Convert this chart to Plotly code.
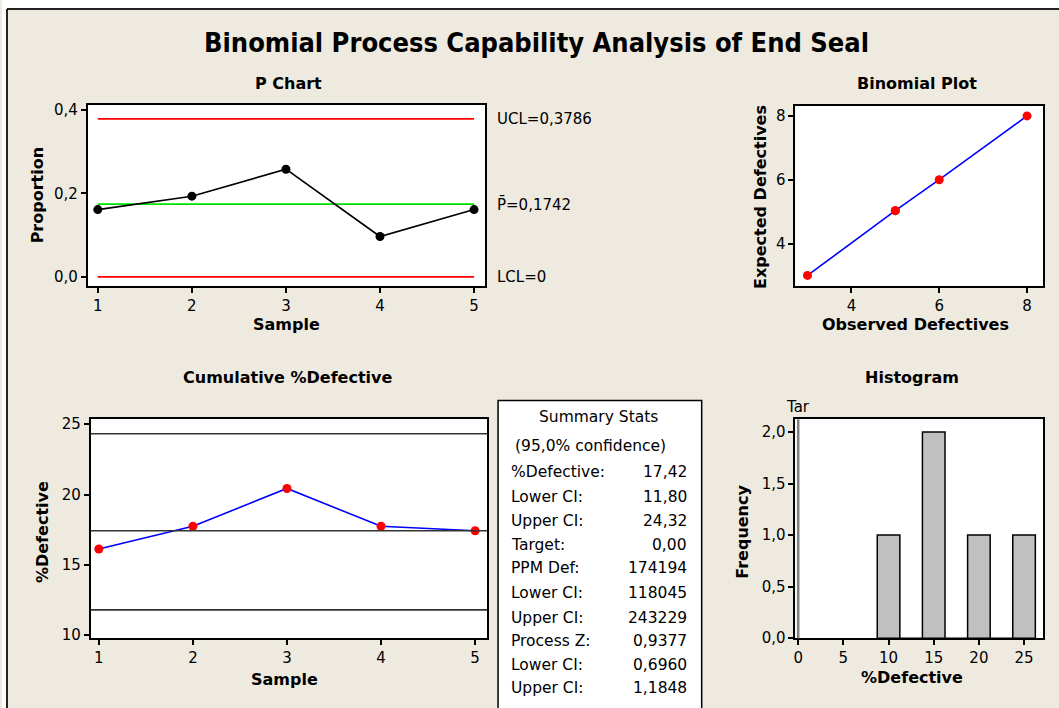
import plotly.graph_objects as go

W, H = 1059, 708

# ---------------- data ----------------
samples = [1, 2, 3, 4, 5]
proportion = [0.1613, 0.1935, 0.2581, 0.0968, 0.1613]
ucl, pbar, lcl = 0.3786, 0.1742, 0.0

cum_pct = [16.13, 17.74, 20.43, 17.74, 17.42]
ci_lines = [24.32, 17.42, 11.80]

observed = [3, 5, 5, 6, 8]
expected = [3, 5.03, 5.03, 6, 8]

hist_bins = [10, 12.5, 15, 17.5, 20, 22.5, 25]
hist_freq = [1, 0, 2, 0, 1, 0, 1]
target = 0.0

stat_labels = ["%Defective:", "Lower CI:", "Upper CI:", "Target:", "PPM Def:",
               "Lower CI:", "Upper CI:", "Process Z:", "Lower CI:", "Upper CI:"]
stat_values = ["17,42", "11,80", "24,32", "0,00", "174194",
               "118045", "243229", "0,9377", "0,6960", "1,1848"]

# ---------------- helpers ----------------
def px(x):
    return x / W

def py(y):
    return 1 - y / H

FONT = "DejaVu Sans"
BG = "#EEEAE0"

fig = go.Figure()

# P chart
fig.add_trace(go.Scatter(x=[samples[0], samples[-1]], y=[ucl, ucl], mode="lines",
                         line=dict(color="#FF0000", width=1.8), xaxis="x", yaxis="y"))
fig.add_trace(go.Scatter(x=[samples[0], samples[-1]], y=[lcl, lcl], mode="lines",
                         line=dict(color="#FF0000", width=1.8), xaxis="x", yaxis="y"))
fig.add_trace(go.Scatter(x=[samples[0], samples[-1]], y=[pbar, pbar], mode="lines",
                         line=dict(color="#00E000", width=1.8), xaxis="x", yaxis="y"))
fig.add_trace(go.Scatter(x=samples, y=proportion, mode="lines+markers",
                         line=dict(color="black", width=1.6),
                         marker=dict(color="black", size=9), xaxis="x", yaxis="y"))

# Binomial plot
fig.add_trace(go.Scatter(x=observed, y=expected, mode="lines+markers",
                         line=dict(color="#0000FF", width=1.6),
                         marker=dict(color="#FF0000", size=9), xaxis="x2", yaxis="y2"))

# Cumulative % defective
fig.add_trace(go.Scatter(x=samples, y=cum_pct, mode="lines+markers",
                         line=dict(color="#0000FF", width=1.6),
                         marker=dict(color="#FF0000", size=9), xaxis="x3", yaxis="y3"))

# Histogram
fig.add_trace(go.Bar(x=hist_bins, y=hist_freq, width=2.5,
                     marker=dict(color="#C0C0C0", line=dict(color="black", width=1.5)),
                     xaxis="x4", yaxis="y4"))

axis_common = dict(showline=True, mirror=True, linecolor="black", linewidth=2,
                   ticks="outside", ticklen=5, tickwidth=1.5, tickcolor="black",
                   showgrid=False, zeroline=False,
                   tickfont=dict(family=FONT, size=15, color="black"))

y_top1, y_bot1 = py(103), py(287)
y_top2, y_bot2 = py(423), py(646)

fig.update_layout(
    width=W, height=H, margin=dict(l=0, r=0, t=0, b=0),
    paper_bgcolor=BG, plot_bgcolor="white", showlegend=False,
    separators=",.",
    xaxis=dict(domain=[px(86), px(484)], range=[0.894, 5.117], tickvals=samples,
               anchor="y", **axis_common),
    yaxis=dict(domain=[y_bot1, y_top1], range=[-0.0212, 0.4118], tickvals=[0, 0.2, 0.4],
               tickformat=".1f", anchor="x", **axis_common),
    xaxis2=dict(domain=[px(795), px(1043)], range=[2.727, 8.364], tickvals=[4, 6, 8],
                anchor="y2", **axis_common),
    yaxis2=dict(domain=[y_bot1, py(104)], range=[2.677, 8.308], tickvals=[4, 6, 8],
                anchor="x2", **axis_common),
    xaxis3=dict(domain=[px(89), px(486)], range=[0.915, 5.127], tickvals=samples,
                anchor="y3", **axis_common),
    yaxis3=dict(domain=[y_bot2, y_top2], range=[9.79, 25.35], tickvals=[10, 15, 20, 25],
                anchor="x3", **axis_common),
    xaxis4=dict(domain=[px(795), px(1043)], range=[-0.3, 27.1],
                tickvals=[0, 5, 10, 15, 20, 25], anchor="y4", **axis_common),
    yaxis4=dict(domain=[y_bot2, y_top2], range=[0, 2.124], tickvals=[0, 0.5, 1, 1.5, 2],
                tickformat=".1f", anchor="x4", **axis_common),
)

shapes = []
# outer white strips + border (image is cropped at right/bottom)
shapes.append(dict(type="rect", xref="paper", yref="paper", x0=0, x1=px(5), y0=-0.05, y1=1.05,
                   fillcolor="white", line=dict(width=0), layer="below"))
shapes.append(dict(type="rect", xref="paper", yref="paper", x0=0, x1=1.05, y0=py(5), y1=1.05,
                   fillcolor="white", line=dict(width=0), layer="below"))
shapes.append(dict(type="line", xref="paper", yref="paper", x0=px(5), x1=px(5), y0=-0.05, y1=py(5),
                   line=dict(color="#222222", width=2)))
shapes.append(dict(type="line", xref="paper", yref="paper", x0=px(5), x1=1.05, y0=py(5), y1=py(5),
                   line=dict(color="#222222", width=2)))
# cumulative CI / centre lines
for v in ci_lines:
    shapes.append(dict(type="line", xref="x3 domain", yref="y3", x0=0, x1=1, y0=v, y1=v,
                       line=dict(color="#333333", width=1.6)))
# histogram target line
shapes.append(dict(type="line", xref="x4", yref="y4 domain", x0=target, x1=target, y0=0, y1=1,
                   line=dict(color="#808080", width=2.5)))
# summary box
shapes.append(dict(type="rect", xref="paper", yref="paper", x0=px(497), x1=px(701),
                   y0=-0.05, y1=py(404), fillcolor="white",
                   line=dict(color="black", width=1.5)))
fig.update_layout(shapes=shapes)

ann = []

def text(x, y, s, size=15, bold=False, anchor="center", angle=0, family=FONT):
    ann.append(dict(x=px(x), y=py(y), xref="paper", yref="paper",
                    text=f"<b>{s}</b>" if bold else s, showarrow=False,
                    xanchor=anchor, yanchor="middle", textangle=angle,
                    font=dict(family=family, size=size, color="black")))

# main title
text(536, 39, "Binomial Process Capability Analysis of End Seal", size=27, bold=True,
     family="Liberation Sans Narrow, Arial Narrow, DejaVu Sans Condensed, sans-serif")

# subplot titles
text(287, 81, "P Chart", size=16, bold=True)
text(917, 81, "Binomial Plot", size=16, bold=True)
text(286, 380, "Cumulative %Defective", size=16, bold=True)
text(912, 380, "Histogram", size=16, bold=True)

# axis titles
text(285, 327, "Sample", size=16, bold=True)
text(35, 195, "Proportion", size=16, bold=True, angle=-90)
text(915, 326, "Observed Defectives", size=16, bold=True)
text(760, 197, "Expected Defectives", size=16, bold=True, angle=-90)
text(283, 688, "Sample", size=16, bold=True)
text(40, 538, "%Defective", size=16, bold=True, angle=-90)
text(912, 686, "%Defective", size=16, bold=True)
text(742, 538, "Frequency", size=16, bold=True, angle=-90)

# control limit labels (P chart)
def fmt(v, d):
    return f"{v:.{d}f}".replace(".", ",")

for lab, val in [("UCL=" + fmt(ucl, 4), ucl), ("P\u0304=" + fmt(pbar, 4), pbar), ("LCL=0", lcl)]:
    ann.append(dict(x=px(494), y=val, xref="paper", yref="y", text=lab, showarrow=False,
                    xanchor="left", yanchor="middle",
                    font=dict(family=FONT, size=15, color="black")))

# target label
ann.append(dict(x=target, y=py(411), xref="x4", yref="paper", text="Tar", showarrow=False,
                xanchor="center", yanchor="middle",
                font=dict(family=FONT, size=15, color="black")))

# summary stats
text(598, 421, "Summary Stats", size=15.5)
text(590, 450, "(95,0% confidence)", size=15.5)
row_y = [477, 502, 527, 551, 575, 600, 625, 649, 673, 697]
for yy, lab, val in zip(row_y, stat_labels, stat_values):
    text(508, yy, lab, size=15.5, anchor="left")
    text(688, yy, val, size=15.5, anchor="right")

fig.update_layout(annotations=ann)

fig.write_html("out.html")
